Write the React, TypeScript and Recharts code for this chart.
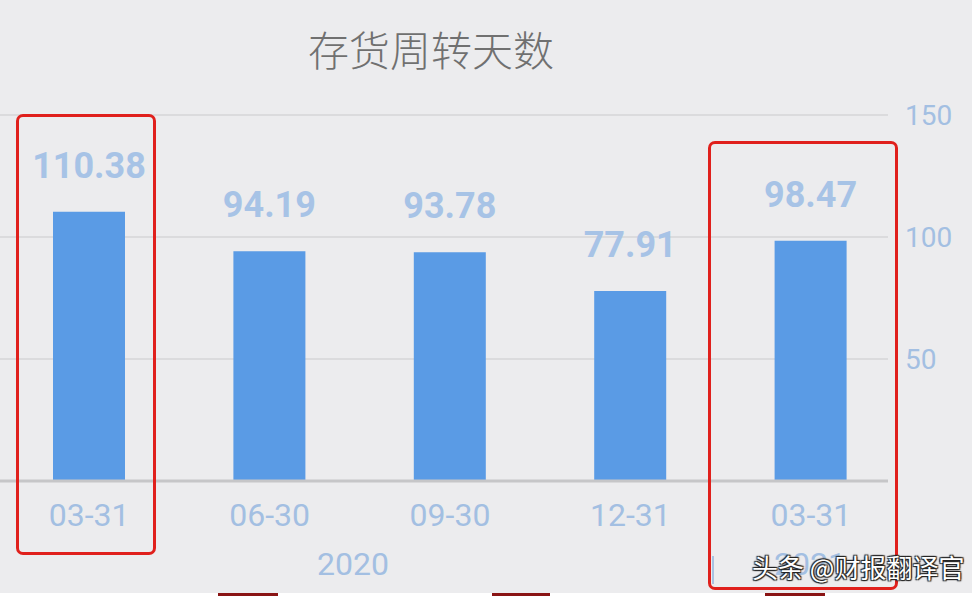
import { BarChart, Bar, XAxis, YAxis, CartesianGrid, LabelList } from "recharts";

// 存货周转天数 (inventory turnover days)
const periods = ["03-31", "06-30", "09-30", "12-31", "03-31 "];
const turnoverDays = [110.38, 94.19, 93.78, 77.91, 98.47];
const yTicks = [50, 100, 150];
const yearLabels = [
  { text: "2020", center: 353 },
  { text: "2021", center: 810 },
];

const data = periods.map((p, i) => ({ period: p, days: turnoverDays[i] }));

const BG = "#ececee";
const BAR = "#5a9be5";
const LABEL = "#a7c3e6";
const AXIS_TEXT = "#a3bfe2";
const FONT = "Roboto, 'Noto Sans', sans-serif";

const redBox = (left: number, top: number, width: number, height: number) => (
  <div
    style={{
      position: "absolute",
      left,
      top,
      width,
      height,
      border: "3px solid #e0201c",
      borderRadius: 7,
      boxSizing: "border-box",
      pointerEvents: "none",
    }}
  />
);

export default function App() {
  return (
    <div
      style={{
        position: "fixed",
        left: 0,
        top: 0,
        width: 972,
        height: 596,
        background: BG,
        overflow: "hidden",
        fontFamily: FONT,
      }}
    >
      <div
        style={{
          position: "absolute",
          left: 0,
          top: 22,
          width: 862,
          textAlign: "center",
          fontSize: 41,
          color: "#707070",
          fontFamily: "'Noto Sans CJK SC', sans-serif",
          fontWeight: 300,
          lineHeight: "52px",
        }}
      >
        存货周转天数
      </div>

      <div style={{ position: "absolute", left: 0, top: 0 }}>
        <BarChart
          width={972}
          height={596}
          data={data}
          margin={{ top: 115, right: 0, bottom: 85, left: 0 }}
        >
          <CartesianGrid vertical={false} stroke="#c9c9cb" strokeWidth={1.2} />
          <XAxis
            dataKey="period"
            height={30}
            padding={{ left: -1, right: -13 }}
            axisLine={{ stroke: "#c6c6c8", strokeWidth: 3 }}
            tickLine={false}
            tickSize={0}
            tickMargin={22}
            tick={{ fill: AXIS_TEXT, fontSize: 32, fontFamily: FONT }}
            tickFormatter={(v: string) => v.trim()}
            interval={0}
          />
          <YAxis
            orientation="right"
            width={84}
            domain={[0, 150]}
            ticks={yTicks}
            axisLine={false}
            tickLine={false}
            tickSize={0}
            tickMargin={17}
            tick={{ fill: AXIS_TEXT, fontSize: 28, fontFamily: FONT }}
          />
          <Bar dataKey="days" fill={BAR} barSize={72} isAnimationActive={false}>
            <LabelList
              dataKey="days"
              position="top"
              offset={34}
              fill={LABEL}
              fontSize={36}
              fontWeight="bold"
              fontFamily={FONT}
            />
          </Bar>
        </BarChart>
      </div>

      {yearLabels.map((y) => (
        <div
          key={y.text}
          style={{
            position: "absolute",
            left: y.center - 60,
            top: 545,
            width: 120,
            textAlign: "center",
            fontSize: 32,
            lineHeight: "38px",
            color: AXIS_TEXT,
          }}
        >
          {y.text}
        </div>
      ))}
      <div style={{ position: "absolute", left: 712, top: 556, width: 2, height: 28, background: "#a8c2e2" }} />

      {redBox(16, 114, 140, 441)}
      {redBox(708, 141, 190, 449)}

      <div
        style={{
          position: "absolute",
          left: 752,
          top: 550,
          fontSize: 26,
          lineHeight: "34px",
          color: "#ffffff",
          fontFamily: "'Noto Sans CJK SC', sans-serif",
          textShadow: "1px 1px 1px #222, -1px -1px 1px #222, 1px -1px 1px #222, -1px 1px 1px #222",
          whiteSpace: "nowrap",
        }}
      >
        头条 @财报翻译官
      </div>

      <div style={{ position: "absolute", left: 0, top: 593, width: 972, height: 3, background: "#ffffff" }} />
      <div style={{ position: "absolute", left: 218, top: 593, width: 60, height: 3, background: "#8a1414" }} />
      <div style={{ position: "absolute", left: 492, top: 593, width: 58, height: 3, background: "#8a1414" }} />
      <div style={{ position: "absolute", left: 765, top: 593, width: 60, height: 3, background: "#8a1414" }} />
    </div>
  );
}
